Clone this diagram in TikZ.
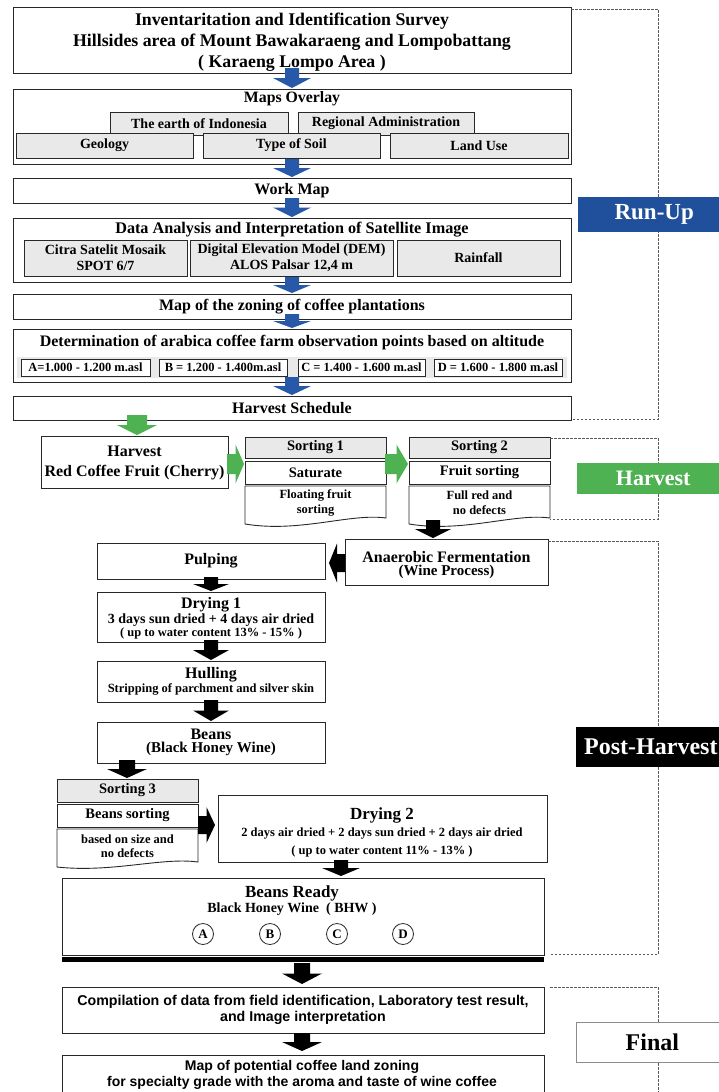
\documentclass[tikz,border=0pt]{standalone}
\usepackage{fontspec}
\setmainfont{Liberation Serif}
\newfontfamily\sansf{Liberation Sans}
\usetikzlibrary{calc,shadows}
\definecolor{arrblue}{RGB}{40,88,168}
\definecolor{runblue}{RGB}{32,80,155}
\definecolor{hgreen}{RGB}{78,178,82}
\definecolor{subgrey}{RGB}{233,233,233}
\definecolor{edge}{RGB}{40,40,40}
\newcommand\fs[2]{\fontsize{#1}{#2}\selectfont}
\tikzset{
 box/.style={draw=edge, line width=0.9pt, fill=white, inner sep=0pt, outer sep=0pt, align=center, font=\bfseries,
   drop shadow={shadow xshift=0.8pt, shadow yshift=-1.3pt, opacity=0.55, fill=black!70}},
 gbox/.style={box, fill=subgrey},
 sbox/.style={box, line width=0.7pt},
 lbl/.style={inner sep=0pt, outer sep=0pt, font=\bfseries, align=center},
 docline/.style={draw=edge, line width=0.9pt, fill=white},
 dashbr/.style={draw=black!65, line width=0.7pt, dash pattern=on 2.5pt off 1.5pt},
 circ/.style={draw=edge, circle, line width=0.8pt, minimum size=21pt, inner sep=0pt, font=\bfseries\fs{13}{13}},
 aS/.store in=\aS, aH/.store in=\aH, aO/.store in=\aO, aG/.store in=\aG,
 aS=7pt, aH=19pt, aO=5pt, aG=1pt,
}
% box from corner (x1,y1) to (x2,y2) in pixel units
\newcommand\bx[7][]{\node[box,#1,anchor=north west,minimum width={#5-#3},minimum height={#6-#4}] (#2) at (#3,#4) {#7};}
% block arrows
\newcommand\darr[4][]{%
  \fill[#1] let \p1=(#2.south), \p2=(#3.north) in
    (#4pt-\aS,\y1+\aO) -- (#4pt+\aS,\y1+\aO) -- (#4pt+\aS,{(\y1+\aO+\y2+\aG)/2}) -- (#4pt+\aH,{(\y1+\aO+\y2+\aG)/2})
    -- (#4pt,\y2+\aG) -- (#4pt-\aH,{(\y1+\aO+\y2+\aG)/2}) -- (#4pt-\aS,{(\y1+\aO+\y2+\aG)/2}) -- cycle;}
\newcommand\rarr[4][]{%
  \fill[#1] let \p1=(#2.east), \p2=(#3.west) in
    (\x1-\aO,-#4pt+\aS) -- ({(\x1-\aO+\x2-\aG)/2},-#4pt+\aS) -- ({(\x1-\aO+\x2-\aG)/2},-#4pt+\aH)
    -- (\x2-\aG,-#4pt) -- ({(\x1-\aO+\x2-\aG)/2},-#4pt-\aH) -- ({(\x1-\aO+\x2-\aG)/2},-#4pt-\aS) -- (\x1-\aO,-#4pt-\aS) -- cycle;}
\newcommand\larr[4][]{%
  \fill[#1] let \p1=(#2.west), \p2=(#3.east) in
    (\x1+\aO,-#4pt+\aS) -- ({(\x1+\aO+\x2+\aG)/2},-#4pt+\aS) -- ({(\x1+\aO+\x2+\aG)/2},-#4pt+\aH)
    -- (\x2+\aG,-#4pt) -- ({(\x1+\aO+\x2+\aG)/2},-#4pt-\aH) -- ({(\x1+\aO+\x2+\aG)/2},-#4pt-\aS) -- (\x1+\aO,-#4pt-\aS) -- cycle;}

\begin{document}
\begin{tikzpicture}[x=1pt,y=-1pt]
\useasboundingbox (0,0) rectangle (718,1092);

% ---------------- Run-Up ----------------
\bx{title}{13}{7}{571}{73}{}
\node[lbl, font=\bfseries\fs{17.8}{21}] (titleT) at (292,42) {Inventaritation and Identification Survey\\Hillsides area of Mount Bawakaraeng and Lompobattang\\( Karaeng Lompo Area )};

\bx{maps}{13}{89}{571}{164}{}
\node[lbl, font=\bfseries\fs{15.8}{18}] (mapsT) at (292,99) {Maps Overlay};
\bx[gbox, font=\bfseries\fs{14}{16}]{earth}{110}{112}{288}{135}{The earth of Indonesia}
\bx[gbox, font=\bfseries\fs{14}{16}]{regadm}{298}{112}{474}{135}{Regional Administration}
\bx[gbox, font=\bfseries\fs{14}{16}]{geol}{16}{133}{193}{158}{Geology}
\bx[gbox, font=\bfseries\fs{14}{16}]{soil}{203}{133}{380}{158}{Type of Soil}
\bx[gbox, font=\bfseries\fs{14}{16}]{landuse}{390}{133}{568}{158}{Land Use}

\bx[font=\bfseries\fs{16}{18}]{work}{13}{178}{571}{203}{Work Map}

\bx{data}{13}{218}{571}{282}{}
\node[lbl, font=\bfseries\fs{16.2}{18}] (dataT) at (292,230) {Data Analysis and Interpretation of Satellite Image};
\bx[gbox, font=\bfseries\fs{14}{16}]{citra}{24}{240}{187}{276}{Citra Satelit Mosaik\\SPOT 6/7}
\bx[gbox, font=\bfseries\fs{14}{16}]{dem}{190}{240}{393}{276}{Digital Elevation Model (DEM)\\ALOS Palsar 12,4 m}
\bx[gbox, font=\bfseries\fs{14}{16}]{rain}{397}{240}{560}{276}{Rainfall}

\bx[font=\bfseries\fs{16}{18}]{zoning}{13}{294}{571}{319}{Map of the zoning of coffee plantations}

\bx{determ}{13}{329}{571}{382}{}
\node[lbl, font=\bfseries\fs{16}{18}] (determT) at (292,343) {Determination of arabica coffee farm observation points based on altitude};
\node[fill=subgrey, anchor=north west, minimum width=550pt, minimum height=21pt, inner sep=0pt] (strip) at (17,357) {};
\bx[sbox, font=\bfseries\fs{12.5}{14}]{altA}{21}{359}{150}{376}{A=1.000 - 1.200 m.asl}
\bx[sbox, font=\bfseries\fs{12.5}{14}]{altB}{159}{359}{287}{376}{B = 1.200 - 1.400m.asl}
\bx[sbox, font=\bfseries\fs{12.5}{14}]{altC}{298}{359}{425}{376}{C = 1.400 - 1.600 m.asl}
\bx[sbox, font=\bfseries\fs{12.5}{14}]{altD}{434}{359}{562}{376}{D = 1.600 - 1.800 m.asl}

\bx[font=\bfseries\fs{16}{18}]{hs}{13}{396}{571}{420}{Harvest Schedule}

\darr[arrblue]{title}{maps}{292}
\darr[arrblue]{maps}{work}{292}
\darr[arrblue]{work}{data}{292}
\darr[arrblue]{data}{zoning}{292}
\darr[arrblue]{zoning}{determ}{292}
\darr[arrblue]{determ}{hs}{292}

% ---------------- Harvest ----------------
\bx{harv}{41}{436}{228}{488}{}
\node[lbl, font=\bfseries\fs{16}{20}] (harvT) at (134.5,463) {Harvest\\Red Coffee Fruit (Cherry)};

\bx[gbox, font=\bfseries\fs{14.5}{16}]{s1a}{245}{437}{386}{458}{Sorting 1}
\bx[font=\bfseries\fs{14.5}{16}]{s1b}{245}{461}{386}{484}{Saturate}
\filldraw[docline] (245,486) -- (386,486) -- (386,518) .. controls (350,513) and (300,533) .. (245,524) -- cycle;
\node[lbl, anchor=north west, minimum width=141pt, minimum height=34pt, font=\bfseries\fs{12.5}{15}] (s1c) at (245,486) {Floating fruit\\sorting};

\bx[gbox, font=\bfseries\fs{14.5}{16}]{s2a}{409}{437}{550}{458}{Sorting 2}
\bx[font=\bfseries\fs{14.5}{16}]{s2b}{409}{461}{550}{484}{Fruit sorting}
\filldraw[docline] (409,486) -- (550,486) -- (550,518) .. controls (514,513) and (464,533) .. (409,524) -- cycle;
\node[lbl, anchor=north west, minimum width=141pt, minimum height=34pt, font=\bfseries\fs{12.5}{15}] (s2c) at (409,486) {Full red and\\no defects};

\darr[hgreen, aS=10pt, aH=20pt]{hs}{harv}{137}
\rarr[hgreen, aS=10pt, aH=19.5pt, aO=1pt]{harv}{s1b}{464}
\rarr[hgreen, aS=10pt, aH=19.5pt, aO=1pt]{s1b}{s2b}{464}

% ---------------- Post-Harvest ----------------
\bx{anaer}{345}{539}{548}{585}{}
\node[lbl, font=\bfseries\fs{16}{18}] (anaerA) at (446.5,557) {Anaerobic Fermentation};
\node[lbl, font=\bfseries\fs{15}{17}] (anaerB) at (446.5,572) {(Wine Process)};

\bx[font=\bfseries\fs{16}{18}]{pulp}{97}{543}{325}{579}{Pulping}

\bx{dry1}{97}{592}{325}{642}{}
\node[lbl, font=\bfseries\fs{16}{18}] (dry1A) at (211,605) {Drying 1};
\node[lbl, font=\bfseries\fs{14}{16}] (dry1B) at (211,620) {3 days sun dried + 4 days air dried};
\node[lbl, font=\bfseries\fs{12.5}{14}] (dry1C) at (211,633) {( up to water content 13\% - 15\% )};

\bx{hull}{97}{661}{325}{702}{}
\node[lbl, font=\bfseries\fs{16}{18}] (hullA) at (211,675) {Hulling};
\node[lbl, font=\bfseries\fs{12.5}{14}] (hullB) at (211,689) {Stripping of parchment and silver skin};

\bx{beans}{97}{722}{325}{763}{}
\node[lbl, font=\bfseries\fs{16}{18}] (beansA) at (211,734) {Beans};
\node[lbl, font=\bfseries\fs{15}{17}] (beansB) at (211,749) {(Black Honey Wine)};

\bx[gbox, font=\bfseries\fs{14.5}{16}]{s3a}{57}{779}{198}{802}{Sorting 3}
\bx[font=\bfseries\fs{14.5}{16}]{s3b}{57}{804}{198}{827}{Beans sorting}
\filldraw[docline] (57,829) -- (198,829) -- (198,862) .. controls (162,857) and (112,873) .. (57,867) -- cycle;
\node[lbl, anchor=north west, minimum width=141pt, minimum height=34pt, font=\bfseries\fs{12.5}{14}] (s3c) at (57,829) {based on size and\\no defects};

\bx{dry2}{218}{795}{547}{862}{}
\node[lbl, font=\bfseries\fs{17}{18}] (dry2a) at (382,815) {Drying 2};
\node[lbl, font=\bfseries\fs{12.5}{17}] (dry2b) at (382,834) {2 days air dried + 2 days sun dried + 2 days air dried};
\node[lbl, font=\bfseries\fs{12.5}{17}] (dry2c) at (382,851) {( up to water content 11\% - 13\% )};

\bx{brdy}{62}{878}{544}{955}{}
\node[lbl, font=\bfseries\fs{17}{18}] (brdyA) at (292,893) {Beans Ready};
\node[lbl, font=\bfseries\fs{14}{16}] (brdyB) at (292,909) {Black Honey Wine\ \ ( BHW )};
\node[circ] (cA) at (203,934) {A};
\node[circ] (cB) at (270,934) {B};
\node[circ] (cC) at (337,934) {C};
\node[circ] (cD) at (403,934) {D};
\draw[line width=5pt] ([yshift=-4.5pt]brdy.south west) -- ([yshift=-4.5pt]brdy.south east);

\darr[black, aS=7pt, aH=18pt, aO=0pt]{s2c}{anaer}{433}
\larr[black, aS=9pt, aH=19.5pt, aO=0pt, aG=4pt]{anaer}{pulp}{563}
\darr[black, aS=7pt, aH=18pt, aO=2pt]{pulp}{dry1}{211}
\darr[black, aS=7pt, aH=18pt, aO=2pt]{dry1}{hull}{211}
\darr[black, aS=7pt, aH=18pt, aO=2pt]{hull}{beans}{211}
\darr[black, aS=8pt, aH=20pt, aO=3pt]{beans}{s3a}{127}
\rarr[black, aS=9pt, aH=18pt, aO=0pt, aG=3pt]{s3b}{dry2}{825}
\darr[black, aS=7pt, aH=19pt, aO=2pt, aG=2pt]{dry2}{brdy}{341}

% ---------------- Final ----------------
\bx[font=\sansf\bfseries\fs{14.2}{15.5}]{comp}{62}{987}{544}{1033}{Compilation of data from field identification, Laboratory test result,\\and Image interpretation}
\bx{mappot}{62}{1055}{544}{1110}{}
\node[lbl, font=\sansf\bfseries\fs{14}{16}] (mappotT) at (302,1075) {Map of potential coffee land zoning\\for specialty grade with the aroma and taste of wine coffee};

\darr[black, aS=8pt, aH=20pt, aO=-8pt, aG=3pt]{brdy}{comp}{302}
\darr[black, aS=8pt, aH=20pt, aO=0pt, aG=4pt]{comp}{mappot}{302}

% ---------------- phase brackets ----------------
\draw[dashbr] ([yshift=-2pt]title.north east) -- (658,9) -- (658,419) -- ([yshift=1pt]hs.south east);
\draw[dashbr] ([yshift=-1pt]s2a.north east) -- (658,438) -- (658,519) -- (550,519);
\draw[dashbr] ([yshift=-2pt]anaer.north east) -- (658,541) -- (658,954) -- (550,954);
\draw[dashbr] (comp.north east) ++(6,0) -- (658,987) -- (658,1100);

% ---------------- phase labels ----------------
\node[fill=runblue, anchor=north west, minimum width=152pt, minimum height=35pt, inner sep=0pt,
      text=white, font=\bfseries\fs{23}{25}] (runup) at (578,197) {Run-Up};
\node[fill=hgreen, anchor=north west, minimum width=152pt, minimum height=31pt, inner sep=0pt,
      text=white, font=\bfseries\fs{22}{24}] (harvL) at (577,463) {Harvest};
\node[fill=black, anchor=north west, minimum width=152pt, minimum height=40pt, inner sep=0pt] (postL) at (576,727) {};
\node[anchor=west, inner sep=0pt, text=white, font=\bfseries\fs{24}{26}] (postT) at (584,747) {Post-Harvest};
\node[fill=white, draw=black!45, line width=0.8pt, anchor=north west, minimum width=152pt, minimum height=40pt, inner sep=0pt,
      font=\bfseries\fs{24}{26}] (finalL) at (576,1022) {Final};
\end{tikzpicture}
\end{document}
